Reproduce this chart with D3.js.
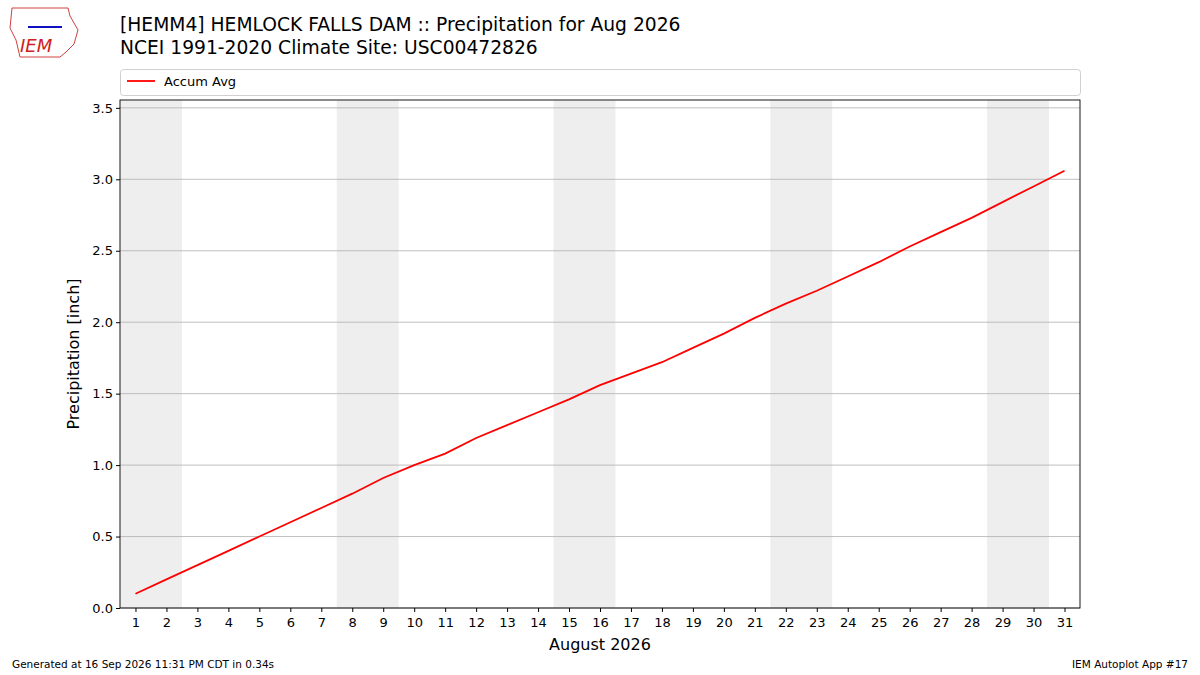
<!DOCTYPE html>
<html>
<head>
<meta charset="utf-8">
<script src="https://cdn.jsdelivr.net/npm/d3@7"></script>
<style>
  body { margin: 0; background: #fff; }
  text { font-family: "DejaVu Sans", sans-serif; }
</style>
</head>
<body>
<div id="chart"></div>
<script>
// data
var days = d3.range(1, 32);
var accumAvg = [0.10, 0.20, 0.30, 0.40, 0.50, 0.60, 0.70, 0.80, 0.91, 1.00,
                1.08, 1.19, 1.28, 1.37, 1.46, 1.56, 1.64, 1.72, 1.82, 1.92,
                2.03, 2.13, 2.22, 2.32, 2.42, 2.53, 2.63, 2.73, 2.84, 2.95, 3.06];
var weekends = [[1, 2], [8, 9], [15, 16], [22, 23], [29, 30]];
var yTicks = [0, 0.5, 1.0, 1.5, 2.0, 2.5, 3.0, 3.5];

var width = 1200, height = 675;
var margin = {top: 100, right: 120, bottom: 67, left: 120};

var svg = d3.select("#chart").append("svg")
    .attr("width", width).attr("height", height);

var x = d3.scaleLinear().domain([0.5, 31.5]).range([margin.left, width - margin.right]);
var y = d3.scaleLinear().domain([0, 3.555]).range([height - margin.bottom, margin.top]);

// weekend shading
svg.selectAll(".wk").data(weekends).join("rect")
    .attr("x", d => x(d[0] - 0.5))
    .attr("width", d => x(d[1] + 0.5) - x(d[0] - 0.5))
    .attr("y", margin.top)
    .attr("height", y(0) - margin.top)
    .attr("fill", "#eeeeee");

// grid
svg.selectAll(".grid").data(yTicks).join("line")
    .attr("x1", margin.left).attr("x2", width - margin.right)
    .attr("y1", d => y(d)).attr("y2", d => y(d))
    .attr("stroke", "#b0b0b0").attr("stroke-width", 0.8);

var line = d3.line().x((d, i) => x(days[i])).y(d => y(d));
svg.append("path").datum(accumAvg)
    .attr("d", line).attr("fill", "none")
    .attr("stroke", "red").attr("stroke-width", 1.8);

// frame
svg.append("rect")
    .attr("x", margin.left).attr("y", margin.top)
    .attr("width", width - margin.left - margin.right)
    .attr("height", y(0) - margin.top)
    .attr("fill", "none").attr("stroke", "#000").attr("stroke-width", 0.9);

var xAxis = svg.append("g")
    .attr("transform", `translate(0,${y(0)})`)
    .call(d3.axisBottom(x).tickValues(days).tickFormat(d3.format("d")).tickSize(4).tickSizeOuter(0));
xAxis.select(".domain").remove();
xAxis.selectAll("text").attr("font-size", 13).attr("font-family", "DejaVu Sans").attr("dy", "0.9em");

var yAxis = svg.append("g")
    .attr("transform", `translate(${margin.left},0)`)
    .call(d3.axisLeft(y).tickValues(yTicks).tickFormat(d3.format(".1f")).tickSize(4).tickSizeOuter(0));
yAxis.select(".domain").remove();
yAxis.selectAll("text").attr("font-size", 13).attr("font-family", "DejaVu Sans");

svg.append("text")
    .attr("x", (margin.left + width - margin.right) / 2).attr("y", 650)
    .attr("text-anchor", "middle").attr("font-size", 16)
    .text("August 2026");

svg.append("text")
    .attr("transform", `translate(79,${(margin.top + y(0)) / 2}) rotate(-90)`)
    .attr("text-anchor", "middle").attr("font-size", 16)
    .text("Precipitation [inch]");

// titles
svg.append("text").attr("x", 120).attr("y", 31).attr("font-size", 18.7)
    .text("[HEMM4] HEMLOCK FALLS DAM :: Precipitation for Aug 2026");
svg.append("text").attr("x", 120).attr("y", 54).attr("font-size", 18.7)
    .text("NCEI 1991-2020 Climate Site: USC00472826");

// legend
svg.append("rect").attr("x", 120.5).attr("y", 69.5).attr("width", 960).attr("height", 26)
    .attr("rx", 3).attr("fill", "#fff").attr("stroke", "#d0d0d0");
svg.append("line").attr("x1", 127).attr("x2", 155).attr("y1", 81).attr("y2", 81)
    .attr("stroke", "red").attr("stroke-width", 1.8);
svg.append("text").attr("x", 164).attr("y", 86).attr("font-size", 13).text("Accum Avg");

// logo
svg.append("path")
    .attr("d", "M12,8 L68,8 L70,16 L78,30 L74,44 L66,52 L60,57 L20,57 L16,40 L10,28 Z")
    .attr("fill", "none").attr("stroke", "#d04040").attr("stroke-width", 1);
svg.append("text").attr("x", 20).attr("y", 52).attr("font-size", 18)
    .attr("font-family", "Liberation Serif").attr("font-style", "italic")
    .attr("fill", "#d02020").text("IEM");
svg.append("line").attr("x1", 28).attr("x2", 62).attr("y1", 27).attr("y2", 27)
    .attr("stroke", "#1010c0").attr("stroke-width", 2);

// footer
svg.append("text").attr("x", 12).attr("y", 668).attr("font-size", 10.5)
    .text("Generated at 16 Sep 2026 11:31 PM CDT in 0.34s");
svg.append("text").attr("x", 1188).attr("y", 668).attr("font-size", 10.5)
    .attr("text-anchor", "end").text("IEM Autoplot App #17");
</script>
</body>
</html>
